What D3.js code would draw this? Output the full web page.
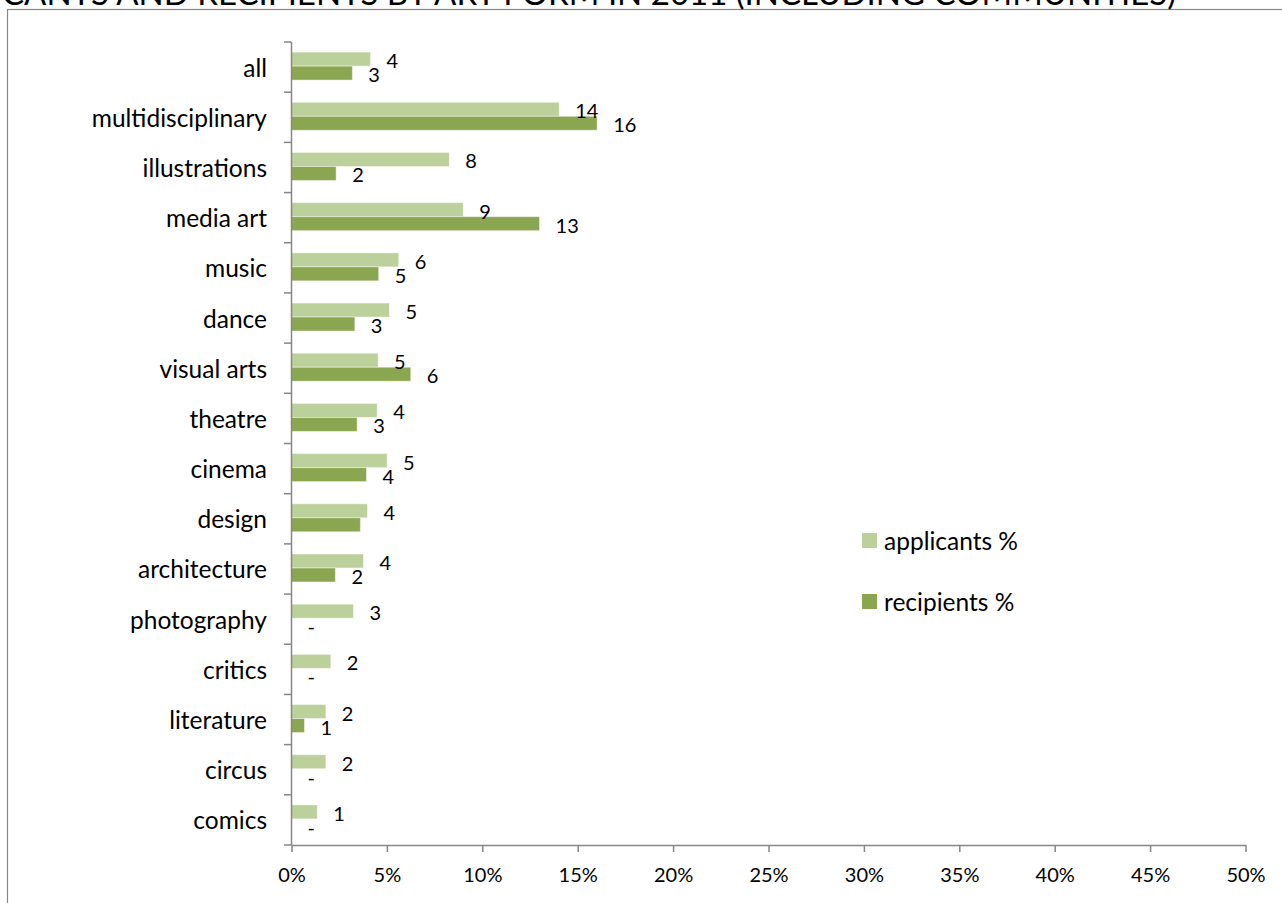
<!DOCTYPE html>
<html>
<head>
<meta charset="utf-8">
<script src="https://cdn.jsdelivr.net/npm/d3@7"></script>
<style>
  html, body { margin: 0; padding: 0; background: #fff; }
  svg { display: block; font-family: Lato, "Open Sans", sans-serif; }
</style>
</head>
<body>
<svg id="chart" width="1282" height="903"></svg>
<script>
const title = "APPLICANTS AND RECIPIENTS BY ART FORM IN 2011 (INCLUDING COMMUNITIES)";
const categories = ["all", "multidisciplinary", "illustrations", "media art", "music", "dance",
  "visual arts", "theatre", "cinema", "design", "architecture", "photography", "critics",
  "literature", "circus", "comics"];
const seriesNames = ["applicants %", "recipients %"];
const applicants = [4.14, 14.03, 8.27, 9.0, 5.62, 5.13, 4.54, 4.49, 5.01, 3.98, 3.77, 3.25, 2.06, 1.80, 1.80, 1.35];
const recipients = [3.19, 16.02, 2.34, 13.0, 4.57, 3.32, 6.25, 3.44, 3.93, 3.61, 2.30, 0, 0, 0.68, 0, 0];
const applicantLabels = ["4", "14", "8", "9", "6", "5", "5", "4", "5", "4", "4", "3", "2", "2", "2", "1"];
const recipientLabels = ["3", "16", "2", "13", "5", "3", "6", "3", "4", "", "2", "-", "-", "1", "-", "-"];
const xTicks = [0, 5, 10, 15, 20, 25, 30, 35, 40, 45, 50];

const colors = ["#BBD09A", "#8BA650"];
const axisColor = "#868686";

const svg = d3.select("#chart");

// outer chart frame (extends beyond the picture on the right and bottom)
svg.append("rect")
  .attr("x", 7.5).attr("y", 9.5)
  .attr("width", 1400).attr("height", 1000)
  .attr("fill", "none").attr("stroke", axisColor).attr("stroke-width", 1.2);

// title, clipped at the top/left as in the reference
svg.append("text")
  .attr("x", 1176).attr("y", 5)
  .attr("text-anchor", "end")
  .attr("font-size", 33)
  .attr("fill", "#000")
  .text(title);

const x = d3.scaleLinear().domain([0, 50]).range([291.5, 1245.5]);
const y0 = d3.scaleBand().domain(categories).range([42, 845]).paddingInner(0).paddingOuter(0);
const y1 = d3.scaleBand().domain(seriesNames).range([-1, y0.bandwidth() - 1]).paddingInner(0).paddingOuter(0.793);

const data = categories.map((c, i) => ({
  cat: c,
  vals: [
    { s: seriesNames[0], v: applicants[i], label: applicantLabels[i], color: colors[0] },
    { s: seriesNames[1], v: recipients[i], label: recipientLabels[i], color: colors[1] }
  ]
}));

const groups = svg.append("g").selectAll("g")
  .data(data).join("g")
  .attr("transform", d => `translate(0,${y0(d.cat)})`);

groups.selectAll("rect")
  .data(d => d.vals).join("rect")
  .attr("x", x(0))
  .attr("y", d => y1(d.s))
  .attr("width", d => x(d.v) - x(0))
  .attr("height", y1.bandwidth())
  .attr("fill", d => d.color)
  .attr("stroke", "rgba(255,255,255,0.45)")
  .attr("stroke-width", 1);

groups.selectAll("text.val")
  .data(d => d.vals).join("text")
  .attr("class", "val")
  .attr("x", d => x(d.v) + 16)
  .attr("y", d => y1(d.s) + y1.bandwidth() / 2 + 1)
  .attr("dominant-baseline", "central")
  .attr("font-size", 20)
  .attr("fill", "#000")
  .text(d => d.label);

// y axis
const yAxis = svg.append("g");
yAxis.append("line")
  .attr("x1", 291.5).attr("x2", 291.5)
  .attr("y1", 42).attr("y2", 845)
  .attr("stroke", axisColor).attr("stroke-width", 1.5);
const boundaries = categories.map(c => y0(c)).concat([y0.range()[1]]);
yAxis.selectAll("line.tick")
  .data(boundaries).join("line")
  .attr("class", "tick")
  .attr("x1", 284).attr("x2", 291.5)
  .attr("y1", d => d).attr("y2", d => d)
  .attr("stroke", axisColor).attr("stroke-width", 1.5);
yAxis.selectAll("text")
  .data(categories).join("text")
  .attr("x", 267)
  .attr("y", d => y0(d) + y0.bandwidth() / 2)
  .attr("text-anchor", "end")
  .attr("dominant-baseline", "central")
  .attr("font-size", 24.5)
  .attr("fill", "#000")
  .text(d => d);

// x axis
const xAxis = svg.append("g")
  .attr("transform", "translate(0,845)")
  .call(d3.axisBottom(x).tickValues(xTicks).tickSize(7).tickSizeOuter(0).tickPadding(16)
    .tickFormat(d => d + "%"));
xAxis.select(".domain").attr("stroke", axisColor).attr("stroke-width", 1.5);
xAxis.selectAll(".tick line").attr("stroke", axisColor).attr("stroke-width", 1.5);
xAxis.selectAll(".tick text")
  .attr("font-size", 20)
  .attr("font-family", "Lato, sans-serif")
  .attr("fill", "#000");

// legend
const legend = svg.append("g");
seriesNames.forEach((s, i) => {
  const ly = 540 + i * 61;
  legend.append("rect")
    .attr("x", 862).attr("y", ly - 7)
    .attr("width", 15).attr("height", 15)
    .attr("fill", colors[i]);
  legend.append("text")
    .attr("x", 884).attr("y", ly)
    .attr("dominant-baseline", "central")
    .attr("font-size", 24.5)
    .attr("fill", "#000")
    .text(s);
});
</script>
</body>
</html>
